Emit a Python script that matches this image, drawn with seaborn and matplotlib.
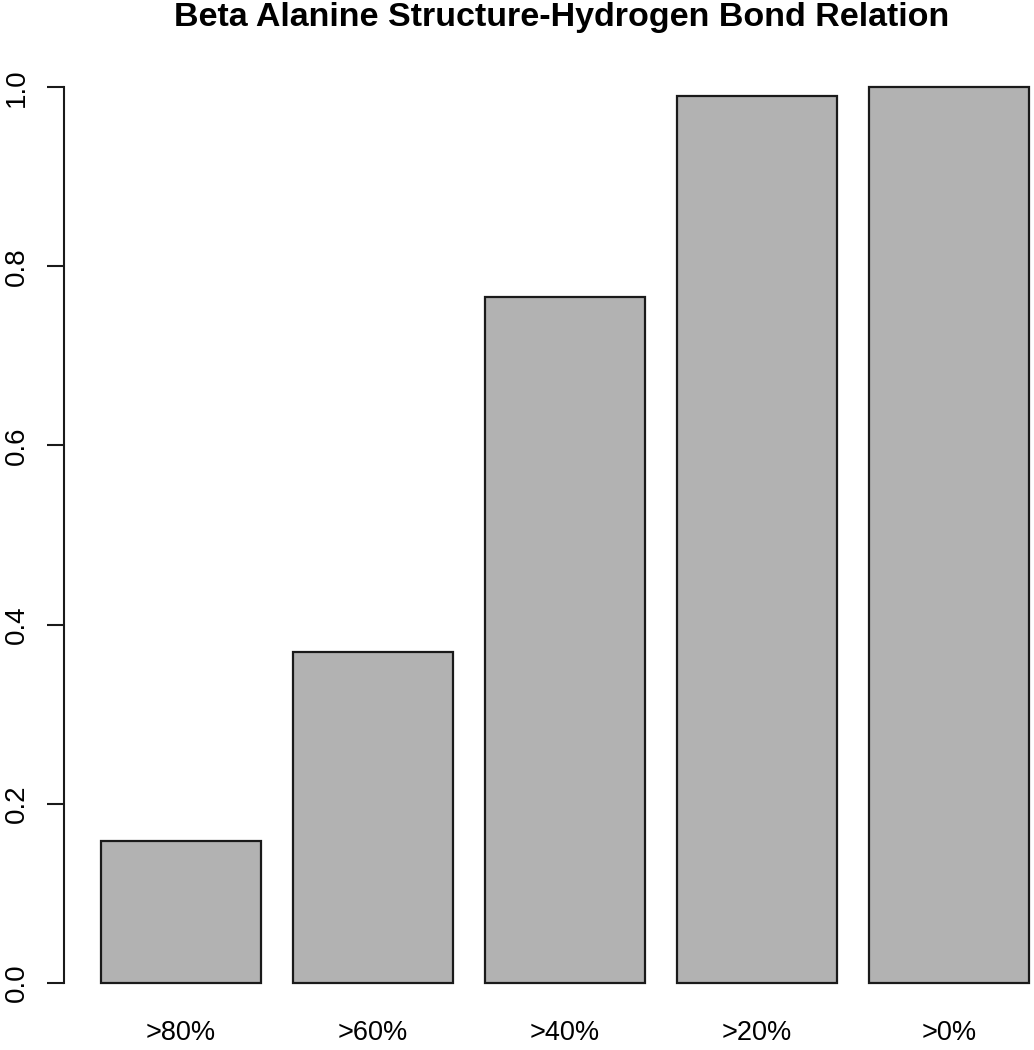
import numpy as np
import pandas as pd
import matplotlib
matplotlib.use("Agg")
import matplotlib.pyplot as plt
import seaborn as sns

# data
labels = [">80%", ">60%", ">40%", ">20%", ">0%"]
values = [0.158, 0.369, 0.766, 0.990, 1.0]
yticks = [0.0, 0.2, 0.4, 0.6, 0.8, 1.0]

df = pd.DataFrame({"bond": labels, "frac": values})

sns.set_style("white")
plt.rcParams["font.family"] = ["Liberation Sans", "DejaVu Sans"]
plt.rcParams["text.color"] = "black"
plt.rcParams["xtick.color"] = "black"
plt.rcParams["ytick.color"] = "black"

W, H = 1034, 1050
fig = plt.figure(figsize=(W / 100, H / 100), dpi=100)
ax = fig.add_axes([64 / W, 67.3 / H, (W - 64) / W, (982.7 - 87.3) / H])

sns.barplot(data=df, x="bond", y="frac", color="#b2b2b2", saturation=1,
            width=0.833, edgecolor="#1a1a1a", linewidth=1.6, ax=ax)
for p in ax.patches:
    p.set_clip_on(False)

ax.set_xlim(-0.609, 4.443)
ax.set_ylim(0, 1)
ax.set_yticks(yticks)
ax.set_yticklabels([f"{t:.1f}" for t in yticks])
ax.set_xlabel("")
ax.set_ylabel("")

for s in ["top", "right", "bottom"]:
    ax.spines[s].set_visible(False)
ax.spines["left"].set_bounds(0, 1)
ax.spines["left"].set_linewidth(1.5)
ax.spines["left"].set_color("#1a1a1a")

ax.tick_params(axis="y", length=12.5, width=1.5, pad=12, labelsize=20,
               labelrotation=90, left=True, color="#1a1a1a")
ax.tick_params(axis="x", length=0, pad=27, labelsize=19.5)
for t in ax.get_yticklabels():
    t.set_va("center")

fig.text(562 / W, 1 - 2 / H, "Beta Alanine Structure-Hydrogen Bond Relation",
         ha="center", va="top", fontsize=24.5, fontweight="bold")

fig.savefig("out.png", dpi=100)
